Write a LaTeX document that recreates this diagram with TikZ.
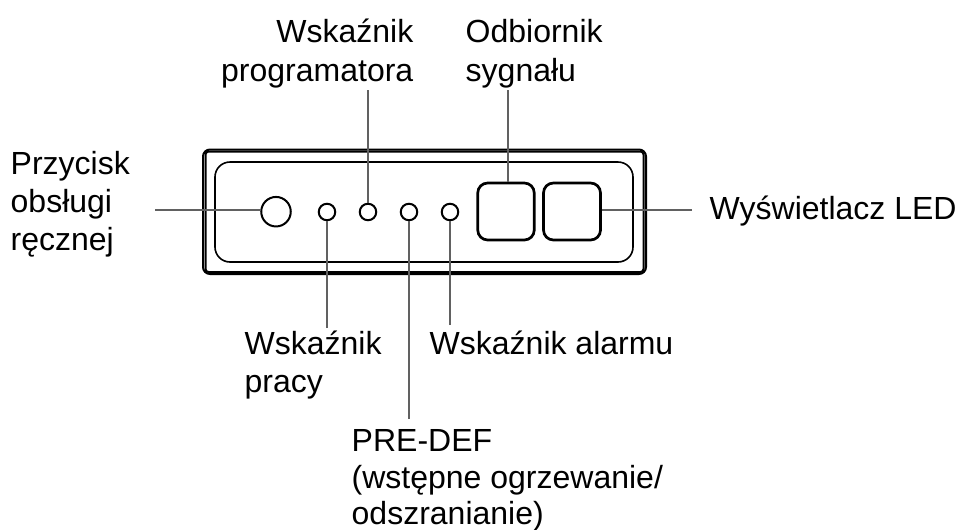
\documentclass[tikz,border=0pt]{standalone}
\usepackage{fontspec}
\setmainfont{Liberation Sans}
\tikzset{
    leader/.style={draw=black!62, line width=0.14mm},
    led/.style={draw, circle, line width=0.2mm, minimum size=0.165cm, inner sep=0pt},
    display/.style={draw, rounded corners=0.1cm, line width=0.27mm, inner sep=0pt, minimum height=0.57cm},
    label/.style={inner sep=0pt, font=\fontsize{9.1}{10.8}\selectfont}
}
\begin{document}
\begin{tikzpicture}[x=0.01cm, y=-0.01cm]
\useasboundingbox (0,0) rectangle (957,530);

% Obudowa
\draw[line width=0.2mm, rounded corners=0.07cm] (203,149.5) rectangle (646,274);
\draw[line width=0.2mm, rounded corners=0.03cm] (205.5,151.5) rectangle (643.5,272);
\draw[line width=0.16mm, rounded corners=0.15cm] (215,162) rectangle (633,262);

% Przycisk i wskazniki
\node[led, minimum size=0.295cm] (button) at (276,211.7) {};
\node[led] (ledrun) at (327,212) {};
\node[led] (ledprog) at (368,212) {};
\node[led] (leddef) at (409,212) {};
\node[led] (ledalarm) at (450,212) {};

% Odbiornik i wyswietlacz
\node[display, minimum width=0.565cm] (receiver) at (506,211.5) {};
\node[display, minimum width=0.57cm] (screen) at (572,211.5) {};

% Opisy
\node[label, anchor=north west, align=left] (lbutton) at (10,151) {Przycisk\\obsługi\\ręcznej};
\node[label, anchor=north east, align=right, font=\fontsize{9.1}{11.1}\selectfont] (lprog) at (414,18.5) {Wskaźnik\\programatora};
\node[label, anchor=north west, align=left, font=\fontsize{9.1}{11.1}\selectfont] (lreceiver) at (465,18.5) {Odbiornik\\sygnału};
\node[label, anchor=west] (lscreen) at (709,211) {Wyświetlacz LED};
\node[label, anchor=north west, align=left] (lrun) at (244,330) {Wskaźnik\\pracy};
\node[label, anchor=north west] (lalarm) at (429,330) {Wskaźnik alarmu};
\node[label, anchor=north west, align=left, font=\fontsize{9.1}{10.4}\selectfont] (ldef) at (351,429) {PRE-DEF\\(wstępne ogrzewanie/\\odszranianie)};

% Linie odniesienia
\coordinate (endbutton) at (155,210);
\coordinate (endscreen) at (692,210);
\coordinate (endprog) at (368,90);
\coordinate (endreceiver) at (508,90);
\coordinate (endrun) at (327,328);
\coordinate (enddef) at (409,419);
\coordinate (endalarm) at (450,325);
\draw[leader] (endbutton) -- (endbutton -| button.west);
\draw[leader] (endscreen) -- (endscreen -| screen.east);
\draw[leader] (endprog) -- (ledprog.north);
\draw[leader] (endreceiver) -- (endreceiver |- receiver.north);
\draw[leader] (endrun) -- (ledrun.south);
\draw[leader] (enddef) -- (leddef.south);
\draw[leader] (endalarm) -- (ledalarm.south);
\end{tikzpicture}
\end{document}
